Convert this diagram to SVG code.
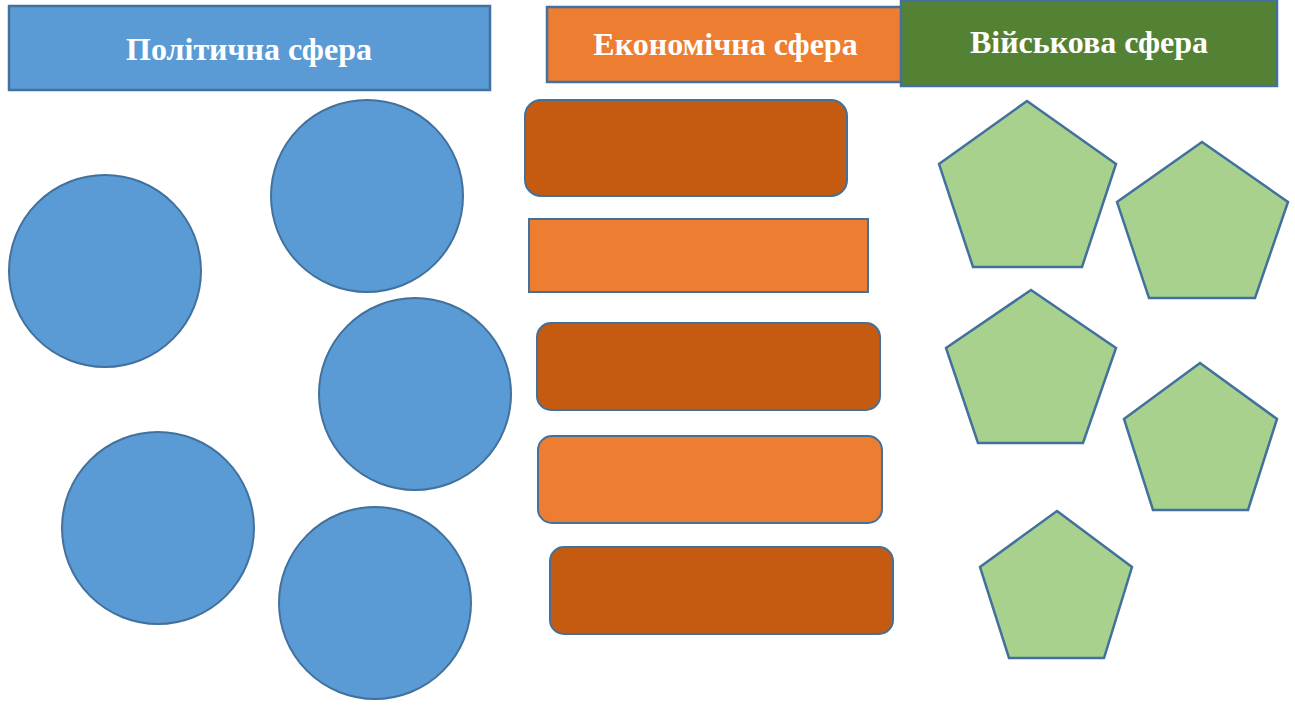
<svg xmlns="http://www.w3.org/2000/svg" width="1295" height="709" viewBox="0 0 1295 709">
<style>
.hdr{stroke:#41719C;stroke-width:2.5}
.ht{font-family:"Liberation Serif","Times New Roman",serif;font-weight:bold;font-size:32px;fill:#FFFFFF;text-anchor:middle}
.circ{fill:#5B9BD5;stroke:#41719C;stroke-width:2}
.dk{fill:#C55A11;stroke:#41719C;stroke-width:2}
.lt{fill:#ED7D31;stroke:#41719C;stroke-width:2}
.pent{fill:#A9D18E;stroke:#41719C;stroke-width:2.5;stroke-linejoin:miter}
</style>
<rect width="1295" height="709" fill="#FFFFFF"/>
<g id="header-political">
<rect class="hdr" x="9" y="6" width="481" height="84" fill="#5B9BD5"/>
<text class="ht" x="249" y="60">Політична сфера</text>
</g>
<g id="header-economic">
<rect class="hdr" x="547" y="7" width="360" height="75" fill="#ED7D31"/>
<text class="ht" x="725.5" y="55">Економічна сфера</text>
</g>
<g id="header-military">
<rect class="hdr" x="901" y="0" width="376" height="86" fill="#548235"/>
<text class="ht" x="1089" y="53">Військова сфера</text>
</g>
<g id="circle-1"><circle class="circ" cx="105" cy="271" r="96"/></g>
<g id="circle-2"><circle class="circ" cx="367" cy="196" r="96"/></g>
<g id="circle-3"><circle class="circ" cx="415" cy="394" r="96"/></g>
<g id="circle-4"><circle class="circ" cx="158" cy="528" r="96"/></g>
<g id="circle-5"><circle class="circ" cx="375" cy="603" r="96"/></g>
<g id="rect-1"><rect class="dk" x="525" y="100" width="322" height="96" rx="16"/></g>
<g id="rect-2"><rect class="lt" x="529" y="219" width="339" height="73"/></g>
<g id="rect-3"><rect class="dk" x="537" y="323" width="343" height="87" rx="14"/></g>
<g id="rect-4"><rect class="lt" x="538" y="436" width="344" height="87" rx="14"/></g>
<g id="rect-5"><rect class="dk" x="550" y="547" width="343" height="87" rx="14"/></g>
<g id="pentagon-1"><polygon class="pent" points="1027,101 1116,164 1082,267 973,267 939,164"/></g>
<g id="pentagon-2"><polygon class="pent" points="1202,142 1288,202 1255,298 1149,298 1117,202"/></g>
<g id="pentagon-3"><polygon class="pent" points="1031,290 1116,348 1083,443 978,443 946,348"/></g>
<g id="pentagon-4"><polygon class="pent" points="1200,363 1277,419 1248,510 1153,510 1124,419"/></g>
<g id="pentagon-5"><polygon class="pent" points="1057,511 1132,567 1104,658 1009,658 980,567"/></g>
<g id="connectors"></g>
</svg>
